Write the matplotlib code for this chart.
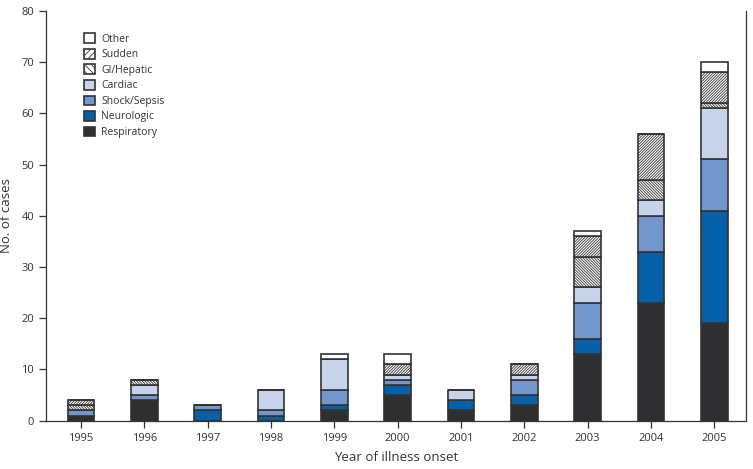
import matplotlib
matplotlib.use("Agg")
import matplotlib.pyplot as plt
from matplotlib.patches import Patch
import numpy as np

years = ["1995", "1996", "1997", "1998", "1999", "2000", "2001", "2002", "2003", "2004", "2005"]
respiratory = [1, 4, 0, 0, 2, 5, 2, 3, 13, 23, 19]
neurologic  = [0, 0, 2, 1, 1, 2, 2, 2, 3, 10, 22]
shock       = [1, 1, 1, 1, 3, 1, 0, 3, 7, 7, 10]
cardiac     = [0, 2, 0, 4, 6, 1, 2, 1, 3, 3, 10]
gi_hepatic  = [1, 1, 0, 0, 0, 0, 0, 0, 6, 4, 1]
sudden      = [1, 0, 0, 0, 0, 2, 0, 2, 4, 9, 6]
other       = [0, 0, 0, 0, 1, 2, 0, 0, 1, 0, 2]

series = [
    ("Respiratory", respiratory, "#2f2e30", None),
    ("Neurologic", neurologic, "#0560a8", None),
    ("Shock/Sepsis", shock, "#7396cc", None),
    ("Cardiac", cardiac, "#c6d3ea", None),
    ("GI/Hepatic", gi_hepatic, "white", "\\" * 12),
    ("Sudden", sudden, "white", "/" * 12),
    ("Other", other, "white", None),
]

plt.rcParams['font.family'] = ['Open Sans', 'DejaVu Sans']
plt.rcParams['hatch.linewidth'] = 0.6
plt.rcParams['hatch.color'] = '#707070'

fig = plt.figure(figsize=(7.53, 4.69), dpi=100)
ax = fig.add_axes([0.0611, 0.103, 0.9296, 0.874])

x = np.arange(len(years))
bottom = np.zeros(len(years))
edge = "#333333"
handles = []
for name, vals, color, hatch in series:
    v = np.array(vals, dtype=float)
    ax.bar(x, v, width=0.42, bottom=bottom, color=color, edgecolor=edge,
           linewidth=1.2, hatch=hatch, zorder=2)
    bottom += v
    handles.append(Patch(facecolor=color, edgecolor=edge, linewidth=1.2,
                         hatch=(hatch[:5] if hatch else None), label=name))

ax.set_xlim(-0.553, 10.5)
ax.set_ylim(0, 80)
ax.set_yticks(range(0, 81, 10))
ax.set_xticks(x)
ax.set_xticklabels(years)
ax.tick_params(axis='both', labelsize=8, colors='#333333', length=5, width=0.9, direction='out')
ax.tick_params(axis='x', pad=4)
for s in ['left', 'bottom', 'right']:
    ax.spines[s].set_color('#333333')
    ax.spines[s].set_linewidth(0.9)
ax.spines['top'].set_visible(False)

ax.set_ylabel("No. of cases", fontsize=9.5, color='#333333')
ax.yaxis.set_label_coords(-0.047, 0.5)
ax.set_xlabel("Year of illness onset", fontsize=9.5, color='#333333')
ax.xaxis.set_label_coords(0.5, -0.074)

leg = ax.legend(handles=handles[::-1], loc='upper left', bbox_to_anchor=(0.054, 0.945),
                frameon=False, fontsize=7.5, handlelength=1.05, handleheight=1.05,
                handletextpad=0.6, labelspacing=0.4, borderaxespad=0, borderpad=0)
for t in leg.get_texts():
    t.set_color('#333333')

fig.savefig("out.png", dpi=100)
